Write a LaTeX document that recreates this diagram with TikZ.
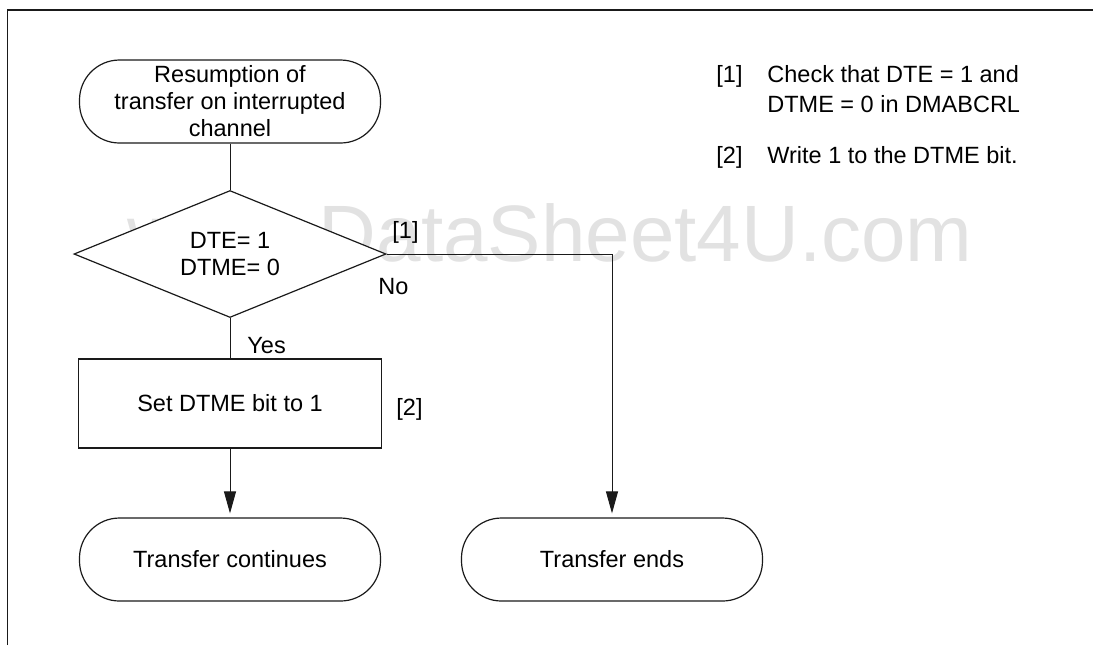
\documentclass[tikz,border=0pt]{standalone}
\usepackage{fontspec}
\setmainfont{Liberation Sans}
\usepackage{tikz}
\usetikzlibrary{arrows.meta,positioning,shapes.geometric}
\definecolor{ink}{HTML}{1A1A1A}
\definecolor{wmgrey}{HTML}{E2E2E2}
\newcommand{\flowfont}{\fontsize{11.75pt}{13.5pt}\selectfont}
\newcommand{\notefont}{\fontsize{11.75pt}{15pt}\selectfont}
\tikzset{
  termbox/.style={
    rectangle, rounded corners=20pt, draw=ink, fill=white, line width=0.6pt,
    minimum width=150.5pt, minimum height=41.5pt,
    font=\flowfont, align=center, inner sep=0pt
  },
  decbox/.style={
    diamond, aspect=2.46, draw=ink, fill=white, line width=0.6pt,
    minimum width=156pt, minimum height=63.5pt,
    font=\flowfont, align=center, inner sep=0pt
  },
  procbox/.style={
    rectangle, draw=ink, fill=white, line width=0.6pt,
    minimum width=151.5pt, minimum height=44.5pt,
    font=\flowfont, align=center, inner sep=0pt
  },
  flowline/.style={draw=ink, line width=0.5pt},
  flowarrow/.style={flowline, -{Triangle[length=11pt, width=6pt]}, shorten >=2pt},
  tag/.style={inner sep=0pt, anchor=base west, font=\flowfont},
  notetext/.style={inner sep=0pt, anchor=base west, font=\notefont, align=left},
  wmarktext/.style={inner sep=0pt, anchor=base east, text=wmgrey,
    font=\fontsize{40pt}{40pt}\selectfont},
}

\begin{document}
\begin{tikzpicture}[x=0.5pt, y=-0.5pt]
  \useasboundingbox (0,0) rectangle (1093,645);
  \node[wmarktext] (wmark) at (973,261) {www.DataSheet4U.com};
  \coordinate (fbl) at (7.5,645);
  \coordinate (ftl) at (7.5,10);
  \coordinate (ftr) at (1093,10);
  \draw[ink, line width=0.65pt] (fbl) -- (ftl) -- (ftr);
  \node[termbox] (start) at (230,101.5) {Resumption of\\transfer on interrupted\\channel};
  \node[decbox] (check) at (230,254) {DTE= 1\\DTME= 0};
  \node[procbox] (setbit) at (230,403.5) {Set DTME bit to 1};
  \node[termbox] (cont) at (230,559.5) {Transfer continues};
  \node[termbox] (ends) at (612,559.5) {Transfer ends};
  \draw[flowline] (start) -- (check);
  \draw[flowline] (check) -- (setbit);
  \draw[flowarrow] (setbit) -- (cont);
  \draw[flowarrow] (check.east) -| (ends.north);
  \node[tag] (tag1) at (392,238) {[1]};
  \node[tag] (tagno) at (378,294) {No};
  \node[tag] (tagyes) at (247,353) {Yes};
  \node[tag] (tag2) at (396,415) {[2]};
  \node[notetext] (note1) at (716,82) {[1]};
  \node[notetext] (note1txt) at (767,112) {Check that DTE = 1 and\\DTME = 0 in DMABCRL};
  \node[notetext] (note2) at (716,163.5) {[2]};
  \node[notetext] (note2txt) at (767,163.5) {Write 1 to the DTME bit.};
\end{tikzpicture}
\end{document}
